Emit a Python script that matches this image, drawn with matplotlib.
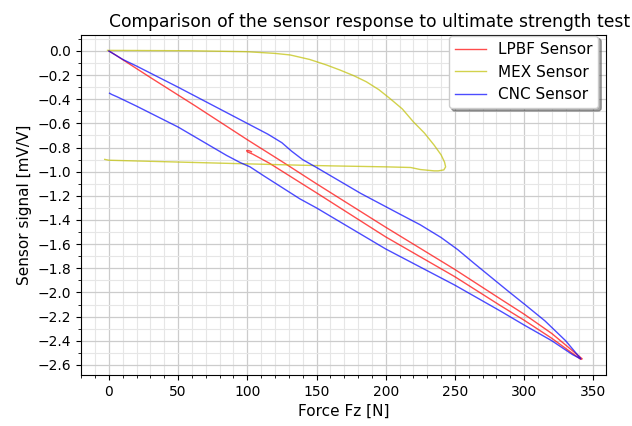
import numpy as np
import matplotlib
matplotlib.use("Agg")
import matplotlib.pyplot as plt
from matplotlib.ticker import MultipleLocator

# LPBF sensor: loading up to ~342 N then unloading back to ~100 N
lpbf_force = [0, 5, 10, 30, 62, 100, 127, 150, 200, 250, 283, 300, 320, 342,
              341, 320, 300, 283, 250, 200, 150, 116, 104, 100, 99.5, 101, 103]
lpbf_signal = [0.0, -0.035, -0.072, -0.22, -0.452, -0.735, -0.93, -1.10, -1.46, -1.81, -2.055, -2.18, -2.34, -2.55,
               -2.555, -2.38, -2.23, -2.11, -1.87, -1.54, -1.175, -0.93, -0.855, -0.835, -0.825, -0.825, -0.835]

# MEX sensor
mex_force = [-1, 20, 58, 100, 120, 131, 145, 157, 167, 177, 186, 195, 203, 212, 220, 228, 235, 240,
             242.5, 243.3, 242, 238, 235, 225, 218, 201, 162, 138, 100, 50, 0, -3]
mex_signal = [0.005, 0.004, 0.002, -0.006, -0.02, -0.033, -0.07, -0.115, -0.158, -0.205, -0.255, -0.32,
              -0.393, -0.48, -0.587, -0.68, -0.78, -0.86, -0.92, -0.96, -0.985, -0.993, -0.993, -0.982,
              -0.965, -0.96, -0.952, -0.946, -0.935, -0.92, -0.905, -0.898]

# CNC sensor
cnc_force = [0, 5, 10, 20, 50, 75, 100, 115, 125, 132, 140, 150, 182, 210, 225, 240, 252, 264, 288, 300,
             315, 330, 341,
             340, 335, 320, 300, 283, 250, 200, 150, 138, 125, 112, 102, 95, 85, 50, 20, 6, 2, 0.5]
cnc_signal = [0.0, -0.035, -0.07, -0.125, -0.30, -0.45, -0.60, -0.69, -0.76, -0.83, -0.90, -0.965,
              -1.18, -1.35, -1.44, -1.545, -1.645, -1.76, -1.985, -2.095, -2.235, -2.40, -2.55,
              -2.545, -2.515, -2.40, -2.27, -2.155, -1.94, -1.64, -1.30, -1.225, -1.13, -1.035, -0.96,
              -0.925, -0.865, -0.63, -0.457, -0.38, -0.36, -0.35]

fig = plt.figure(figsize=(6.32, 4.26), dpi=100)
ax = fig.add_axes([0.128, 0.12, 0.831, 0.798])

ax.plot(lpbf_force, lpbf_signal, color='r', alpha=0.7, lw=1, label='LPBF Sensor')
ax.plot(mex_force, mex_signal, color='y', alpha=0.7, lw=1, label='MEX Sensor')
ax.plot(cnc_force, cnc_signal, color='b', alpha=0.7, lw=1, label='CNC Sensor')

ax.xaxis.set_major_locator(MultipleLocator(50))
ax.xaxis.set_minor_locator(MultipleLocator(10))
ax.yaxis.set_major_locator(MultipleLocator(0.2))
ax.yaxis.set_minor_locator(MultipleLocator(0.1))
ax.grid(which='major', color='#cccccc', lw=0.9)
ax.grid(which='minor', color='#e6e6e6', lw=0.8)
ax.set_axisbelow(True)

ax.set_title('Comparison of the sensor response to ultimate strength test', fontsize=12.3, x=0.55)
ax.set_xlabel('Force Fz [N]', fontsize=11)
ax.set_ylabel('Sensor signal [mV/V]', fontsize=11)
ax.legend(loc='upper right', bbox_to_anchor=(1, 1.02), shadow=True, fontsize=11)

fig.savefig('out.png', dpi=100)
